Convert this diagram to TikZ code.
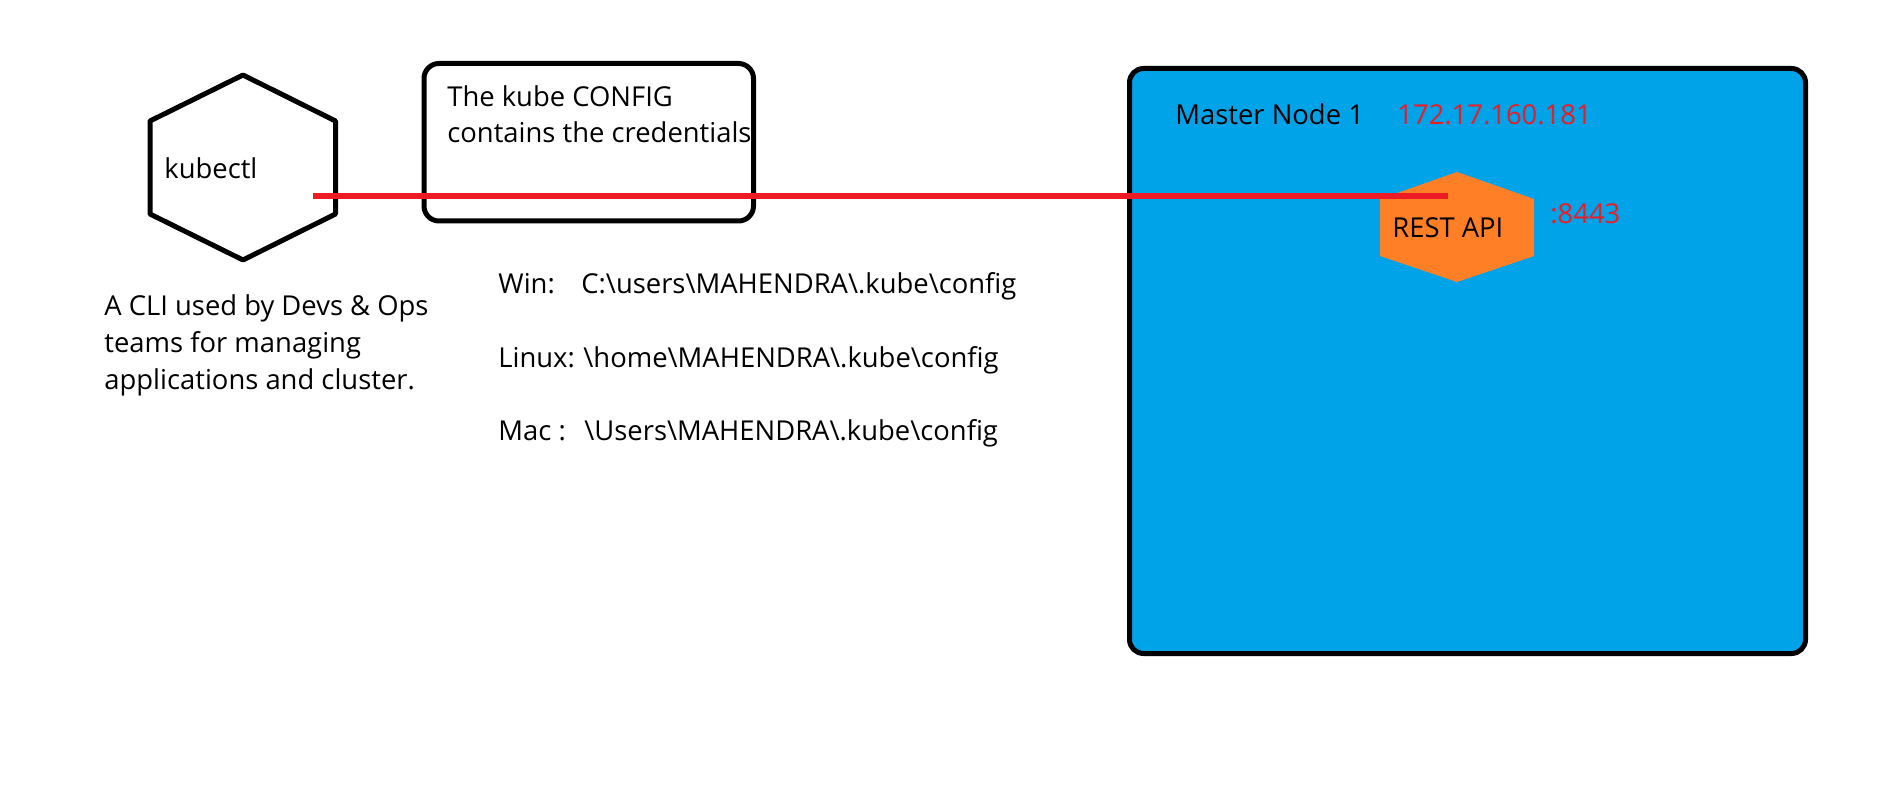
\documentclass[tikz,border=0pt]{standalone}
\usepackage{fontspec}
\setmainfont{Open Sans}
\usetikzlibrary{calc}
\definecolor{paintred}{RGB}{237,28,36}
\definecolor{paintblue}{RGB}{0,162,232}
\definecolor{paintorange}{RGB}{255,127,39}
\begin{document}
\begin{tikzpicture}[x=0.5pt,y=-0.5pt,
  txt/.style={font=\fontsize{13.7pt}{18.5pt}\selectfont, inner sep=0pt, anchor=base west},
  redtxt/.style={txt, text=paintred},
  outline/.style={draw=black, line width=2.5pt, line join=round},
  link/.style={draw=paintred, line width=2.6pt}]
\useasboundingbox (0,0) rectangle (1892,797);
% kubectl hexagon
\draw[outline] (243,75) -- (335.5,121) -- (335.5,214) -- (243,260) -- (150,214) -- (150,121) -- cycle;
\node[txt] (kubectl) at (164,179) {kubectl};
\node[txt] (cli1) at (104,315) {A CLI used by Devs \& Ops};
\node[txt] (cli2) at (104,352) {teams for managing};
\node[txt] (cli3) at (104,389) {applications and cluster.};
% config box
\draw[outline, rounded corners=7.5pt] (424,63.5) rectangle (753.5,221);
\node[txt] (cfg1) at (447,107) {The kube CONFIG};
\node[txt] (cfg2) at (447,143) {contains the credentials};
% paths
\node[txt] (win) at (498,293) {\makebox[41.5pt][l]{Win:}C:\textbackslash users\textbackslash MAHENDRA\textbackslash .kube\textbackslash config};
\node[txt] (linux) at (498,367) {\makebox[42.5pt][l]{Linux:}\textbackslash home\textbackslash MAHENDRA\textbackslash .kube\textbackslash config};
\node[txt] (mac) at (498,440) {\makebox[43pt][l]{Mac :}\textbackslash Users\textbackslash MAHENDRA\textbackslash .kube\textbackslash config};
% master node
\draw[outline, fill=paintblue, rounded corners=7pt] (1129.5,68.5) rectangle (1805.5,653.5);
\node[txt] (master) at (1175,125) {Master Node 1};
\node[redtxt] (ip) at (1397,125) {172.17.160.181};
\fill[paintorange] (1457,172) -- (1534,199) -- (1534,256) -- (1457,282) -- (1380,256) -- (1380,199) -- cycle;
\node[txt] (api) at (1392,237) {REST API};
\node[redtxt] (port) at (1550,224) {:8443};
% connector
\coordinate (kport) at (313,196);
\coordinate (aport) at (1448,196);
\draw[link] (kport) -- (aport);
\end{tikzpicture}
\end{document}
